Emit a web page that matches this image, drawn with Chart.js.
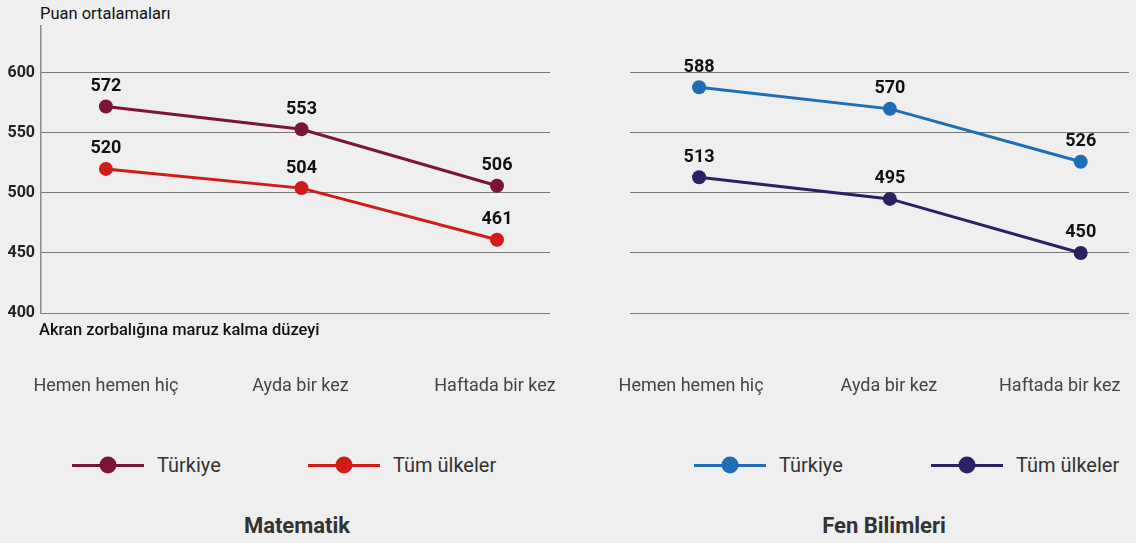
<!DOCTYPE html>
<html lang="tr">
<head>
<meta charset="utf-8">
<script src="https://cdn.jsdelivr.net/npm/chart.js@4.4.1/dist/chart.umd.min.js"></script>
<style>
  body { margin: 0; width: 1136px; height: 543px; background: #efefef; position: relative; overflow: hidden;
         font-family: Roboto, 'DejaVu Sans', sans-serif; color: #222; }
  .panel { position: absolute; top: 0; width: 568px; height: 420px; }
  .note { position: absolute; color: #111; white-space: nowrap; }
  .legend .item { position: absolute; top: 454px; height: 22px; display: flex; align-items: center; white-space: nowrap; }
  .legend .line { position: relative; height: 3px; }
  .legend .dot { position: absolute; left: 50%; top: 50%; width: 17px; height: 17px; border-radius: 50%; transform: translate(-50%, -50%); }
  .legend .txt { font-size: 20px; color: #333; }
  .title { position: absolute; top: 513px; font-size: 22px; font-weight: 700; color: #333; transform: translateX(-50%); white-space: nowrap; }
</style>
</head>
<body>
<div class="note" style="left:40px; top:4px; font-size:16.5px;">Puan ortalamaları</div>
<div class="panel" style="left:0;"><canvas id="mathChart" width="568" height="420"></canvas></div>
<div class="panel" style="left:568px;"><canvas id="sciChart" width="568" height="420"></canvas></div>
<div class="note" style="left:39px; top:320px; font-size:16.5px; font-weight:500;">Akran zorbalığına maruz kalma düzeyi</div>
<div class="legend" id="mathLegend"></div>
<div class="legend" id="sciLegend"></div>
<div class="title" style="left:297px;">Matematik</div>
<div class="title" style="left:884px;">Fen Bilimleri</div>

<script>
// Data
const categories = ['Hemen hemen hiç', 'Ayda bir kez', 'Haftada bir kez'];
const seriesNames = ['Türkiye', 'Tüm ülkeler'];
const mathTurkey = [572, 553, 506];
const mathAll = [520, 504, 461];
const sciTurkey = [588, 570, 526];
const sciAll = [513, 495, 450];
const yTicks = [400, 450, 500, 550, 600];

const toPoints = values => values.map((v, i) => ({ x: i, y: v }));

// value labels above each point
const valueLabels = {
    id: 'valueLabels',
    afterDatasetsDraw(chart) {
        const ctx = chart.ctx;
        ctx.save();
        ctx.font = 'bold 18px Roboto, "DejaVu Sans", sans-serif';
        ctx.fillStyle = '#111';
        ctx.textAlign = 'center';
        ctx.textBaseline = 'middle';
        chart.data.datasets.forEach((ds, di) => {
            chart.getDatasetMeta(di).data.forEach((pt, i) => {
                ctx.fillText(String(ds.data[i].y), pt.x, pt.y - 20);
            });
        });
        ctx.restore();
    }
};

// category names under the plot
const categoryLabels = {
    id: 'categoryLabels',
    afterDraw(chart, args, opts) {
        const ctx = chart.ctx;
        const xs = chart.scales.x;
        ctx.save();
        ctx.font = '18px Roboto, "DejaVu Sans", sans-serif';
        ctx.fillStyle = '#444';
        ctx.textAlign = 'center';
        ctx.textBaseline = 'middle';
        categories.forEach((c, i) => {
            ctx.fillText(c, xs.getPixelForValue(i) + opts.shift[i], 386);
        });
        ctx.restore();
    }
};

function makeChart(id, turkey, all, colors, opt) {
    const datasets = [turkey, all].map((vals, k) => ({
        label: seriesNames[k],
        data: toPoints(vals),
        borderColor: colors[k],
        backgroundColor: colors[k],
        borderWidth: 3,
        pointRadius: 7,
        pointHoverRadius: 7,
        pointBorderWidth: 0,
        tension: 0
    }));
    return new Chart(document.getElementById(id), {
        type: 'line',
        data: { datasets },
        plugins: [valueLabels, categoryLabels],
        options: {
            responsive: false,
            animation: false,
            events: [],
            layout: { padding: { top: 26, bottom: 107, left: 0, right: opt.padRight } },
            plugins: {
                legend: { display: false },
                tooltip: { enabled: false },
                categoryLabels: { shift: opt.shift }
            },
            scales: {
                x: { type: 'linear', display: false, min: opt.xMin, max: opt.xMax },
                y: {
                    min: 400, max: 639,
                    afterBuildTicks: scale => { scale.ticks = yTicks.map(v => ({ value: v })); },
                    afterFit: scale => { scale.width = opt.axisWidth; },
                    ticks: {
                        display: opt.showTicks,
                        padding: 6,
                        color: '#222',
                        font: { family: 'Roboto, "DejaVu Sans", sans-serif', size: 16, weight: 'bold' }
                    },
                    border: { display: opt.showTicks, color: '#8a8a8a', width: 1.5 },
                    grid: { color: '#7a7a7a', lineWidth: 1, drawTicks: false }
                }
            }
        }
    });
}

const mathChart = makeChart('mathChart', mathTurkey, mathAll, ['#7a1634', '#d11a1a'],
    { xMin: -0.332, xMax: 2.271, padRight: 18, axisWidth: 41, showTicks: true, shift: [0, -1, -2] });
const sciChart = makeChart('sciChart', sciTurkey, sciAll, ['#1f6db7', '#2a2062'],
    { xMin: -0.362, xMax: 2.253, padRight: 0, axisWidth: 62, showTicks: false, shift: [-8, -1, -21] });

// HTML legends built from the datasets
function buildLegend(chart, elId, starts) {
    const el = document.getElementById(elId);
    chart.data.datasets.forEach((ds, k) => {
        const item = document.createElement('div');
        item.className = 'item';
        item.style.left = starts[k] + 'px';
        item.innerHTML = `
            <span class="line" style="width:72px; background:${ds.borderColor}; margin-right:13px;">
                <span class="dot" style="background:${ds.borderColor};"></span>
            </span>
            <span class="txt">${ds.label}</span>`;
        el.appendChild(item);
    });
}
buildLegend(mathChart, 'mathLegend', [72, 308]);
buildLegend(sciChart, 'sciLegend', [694, 931]);
</script>
</body>
</html>
